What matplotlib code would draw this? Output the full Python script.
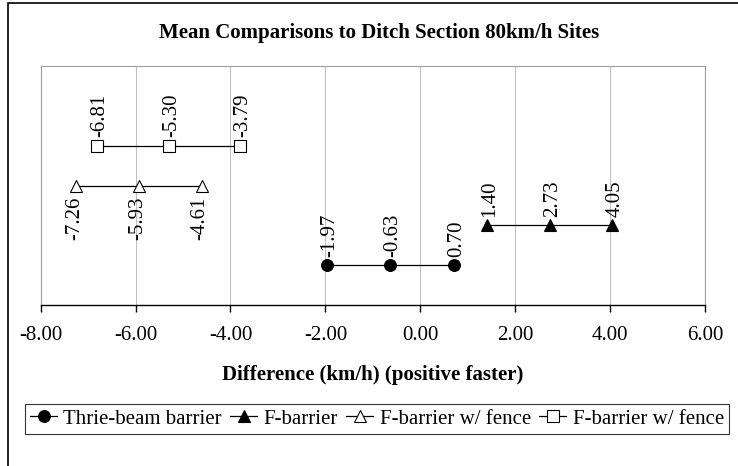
import matplotlib
matplotlib.use('Agg')
import matplotlib.pyplot as plt
from matplotlib.patches import Rectangle

plt.rcParams['font.family'] = ['Liberation Serif', 'DejaVu Serif']

# data (km/h difference, lower / mean / upper)
series_names = ['Thrie-beam barrier', 'F-barrier', 'F-barrier w/ fence', 'F-barrier w/ fence']
thrie_beam = [-1.97, -0.63, 0.70]
f_barrier = [1.40, 2.73, 4.05]
f_fence_a = [-7.26, -5.93, -4.61]
f_fence_b = [-6.81, -5.30, -3.79]
row_y = [1, 2, 3, 4]
label_above = [True, True, False, True]
xticks = [-8, -6, -4, -2, 0, 2, 4, 6]

fs = 15
W, H = 738, 466

fig = plt.figure(figsize=(W / 100, H / 100), dpi=100)
ax = fig.add_axes([40.7 / W, 1 - 305 / H, 664.3 / W, 239 / H])

styles = [
    dict(marker='o', mfc='black', mec='black', ms=8.5),
    dict(marker='^', mfc='black', mec='black', ms=9),
    dict(marker='^', mfc='white', mec='black', ms=9),
    dict(marker='s', mfc='white', mec='black', ms=8),
]
all_series = [thrie_beam, f_barrier, f_fence_a, f_fence_b]

for vals, y, name, st, above in zip(all_series, row_y, series_names, styles, label_above):
    ax.plot(vals, [y] * len(vals), color='black', lw=0.9, mew=0.8,
            label=name, zorder=3, **st)
    # value labels, rotated like the original
    for v in vals:
        if above:
            ax.annotate(f'{v:.2f}', (v, y), xytext=(2, 6), textcoords='offset points',
                        rotation=90, ha='center', va='bottom', fontsize=fs)
        else:
            ax.annotate(f'{v:.2f}', (v, y), xytext=(-1, -8), textcoords='offset points',
                        rotation=90, ha='center', va='top', fontsize=fs)

ax.set_xlim(-8, 6)
ax.set_ylim(0, 6)
ax.set_xticks(xticks)
ax.set_xticklabels([f'{t:.2f}' for t in xticks], fontsize=fs)
ax.set_yticks([])
ax.grid(True, axis='x', color='#c0c0c0', lw=0.8)
ax.set_axisbelow(True)
for side in ['top', 'right', 'left']:
    ax.spines[side].set_color('#a0a0a0')
    ax.spines[side].set_linewidth(0.8)
ax.spines['bottom'].set_color('black')
ax.spines['bottom'].set_linewidth(1.0)
ax.tick_params(axis='x', direction='out', length=5, width=1.0, pad=10, color='black')

fig.text(379 / W, 1 - 33 / H, 'Mean Comparisons to Ditch Section 80km/h Sites',
         ha='center', va='center', fontsize=fs, fontweight='bold')
fig.text(373 / W, 1 - 375 / H, 'Difference (km/h) (positive faster)',
         ha='center', va='center', fontsize=fs, fontweight='bold')

leg = fig.legend(loc='center', bbox_to_anchor=(377 / W, 1 - 419 / H), ncol=4,
                 fontsize=fs, frameon=True, fancybox=False, edgecolor='black',
                 handlelength=1.3, handletextpad=0.3, columnspacing=0.4,
                 borderpad=0.25, borderaxespad=0)
leg.get_frame().set_linewidth(0.8)

# outer chart border (only top and left edges visible)
fig.patches.append(Rectangle((8 / W, -0.05), 1.1, 1 - 3 / H + 0.05,
                             transform=fig.transFigure, fill=False,
                             edgecolor='black', lw=1.2))

fig.savefig('out.png', dpi=100)
